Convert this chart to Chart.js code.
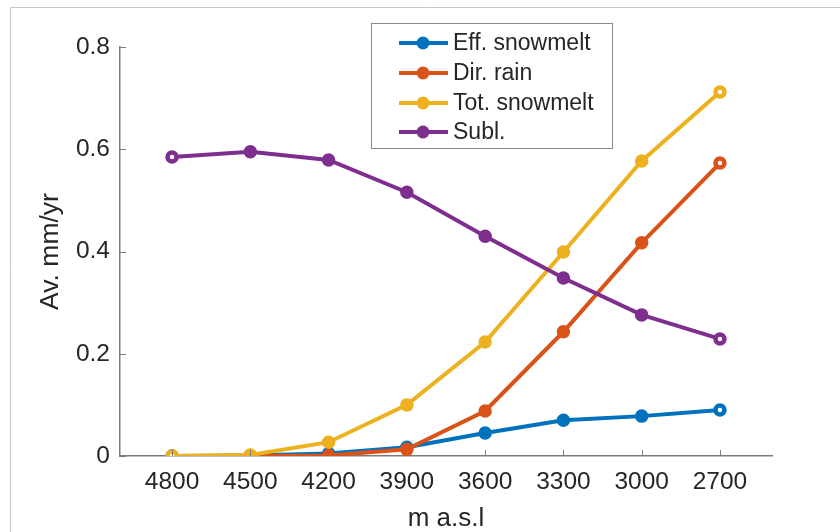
<!DOCTYPE html>
<html>
<head>
<meta charset="utf-8">
<script src="https://cdn.jsdelivr.net/npm/chart.js@4"></script>
<style>
  html, body { margin: 0; padding: 0; background: #ffffff; }
  #wrap { width: 840px; height: 532px; }
</style>
</head>
<body>
<div id="wrap"><canvas id="c" width="840" height="532"></canvas></div>
<script>
// Elevation bands (m a.s.l.), from high to low
const elevations = ['4800', '4500', '4200', '3900', '3600', '3300', '3000', '2700'];

// Average water fluxes per band (mm/yr)
const effSnowmelt = [0.000, 0.001, 0.005, 0.017, 0.045, 0.070, 0.078, 0.090];
const dirRain     = [0.000, 0.000, 0.001, 0.013, 0.088, 0.243, 0.417, 0.573];
const totSnowmelt = [0.000, 0.002, 0.027, 0.100, 0.223, 0.399, 0.577, 0.712];
const subl        = [0.585, 0.595, 0.579, 0.516, 0.430, 0.348, 0.276, 0.229];

const seriesNames = ['Eff. snowmelt', 'Dir. rain', 'Tot. snowmelt', 'Subl.'];
const yTicks = [0, 0.2, 0.4, 0.6, 0.8];

const colors = ['#0072BD', '#D95319', '#EDB120', '#7E2F8E'];
const FONT = '"Liberation Sans", Arial, Helvetica, sans-serif';
const TEXT = '#262626';
const AXIS = '#7a7a7a';

const lastIdx = elevations.length - 1;
const isEnd = i => i === 0 || i === lastIdx;

function makeDataset(label, values, k) {
  const c = colors[k];
  return {
    label,
    data: values.map((v, i) => ({ x: i, y: v })),
    borderColor: c,
    backgroundColor: c,
    borderWidth: 4,
    order: 3 - k,
    // end points are drawn as thick rings, inner points as filled dots
    pointRadius: ctx => isEnd(ctx.dataIndex) ? 4.5 : 6,
    pointBorderWidth: ctx => isEnd(ctx.dataIndex) ? 4.5 : 1.5,
    pointBackgroundColor: ctx => isEnd(ctx.dataIndex) ? '#ffffff' : c,
    pointBorderColor: c,
    tension: 0
  };
}

// Outer frame lines around the figure
const framePlugin = {
  id: 'frame',
  beforeDraw(chart) {
    const ctx = chart.ctx;
    ctx.save();
    ctx.strokeStyle = '#c8c8c8';
    ctx.lineWidth = 1;
    ctx.beginPath();
    ctx.moveTo(10.5, 532);
    ctx.lineTo(10.5, 7.5);
    ctx.lineTo(840, 7.5);
    ctx.stroke();
    ctx.restore();
  }
};

// Short inward tick marks on both axes
const inwardTicks = {
  id: 'inwardTicks',
  afterDraw(chart) {
    const ctx = chart.ctx;
    const xs = chart.scales.x, ys = chart.scales.y;
    const len = 6;
    ctx.save();
    ctx.strokeStyle = AXIS;
    ctx.lineWidth = 1;
    ctx.beginPath();
    xs.ticks.forEach((t, i) => {
      const px = Math.round(xs.getPixelForTick(i)) + 0.5;
      ctx.moveTo(px, ys.bottom);
      ctx.lineTo(px, ys.bottom - len);
    });
    ys.ticks.forEach((t, i) => {
      const py = Math.round(ys.getPixelForTick(i)) + 0.5;
      ctx.moveTo(xs.left, py);
      ctx.lineTo(xs.left + len, py);
    });
    ctx.stroke();
    ctx.restore();
  }
};

// Boxed legend in the upper part of the plot
const boxLegend = {
  id: 'boxLegend',
  afterDraw(chart) {
    const ctx = chart.ctx;
    const x0 = 371.5, y0 = 23.5, w = 241, h = 125;
    ctx.save();
    ctx.fillStyle = '#ffffff';
    ctx.fillRect(x0, y0, w, h);
    ctx.strokeStyle = '#8a8a8a';
    ctx.lineWidth = 1;
    ctx.strokeRect(x0, y0, w, h);
    const rowY = [43, 73, 103, 132];
    chart.data.datasets.forEach((ds, k) => {
      const y = rowY[k];
      ctx.strokeStyle = ds.borderColor;
      ctx.lineWidth = 4;
      ctx.beginPath();
      ctx.moveTo(399, y);
      ctx.lineTo(448, y);
      ctx.stroke();
      ctx.fillStyle = ds.borderColor;
      ctx.beginPath();
      ctx.arc(423, y, 6.5, 0, Math.PI * 2);
      ctx.fill();
      ctx.fillStyle = TEXT;
      ctx.font = '23px ' + FONT;
      ctx.textAlign = 'left';
      ctx.textBaseline = 'middle';
      ctx.fillText(ds.label, 453, y + 1);
    });
    ctx.restore();
  }
};

new Chart(document.getElementById('c'), {
  type: 'line',
  data: {
    datasets: [
      makeDataset(seriesNames[0], effSnowmelt, 0),
      makeDataset(seriesNames[1], dirRain, 1),
      makeDataset(seriesNames[2], totSnowmelt, 2),
      makeDataset(seriesNames[3], subl, 3)
    ]
  },
  options: {
    responsive: false,
    animation: false,
    events: [],
    layout: { padding: { left: 0, top: 47, right: 68, bottom: 0 } },
    plugins: {
      legend: { display: false },
      tooltip: { enabled: false }
    },
    scales: {
      x: {
        type: 'linear',
        min: -0.665,
        max: lastIdx + 0.665,
        afterBuildTicks: s => { s.ticks = elevations.map((_, i) => ({ value: i })); },
        afterFit: s => { s.height = 76; },
        grid: { display: false, drawTicks: false },
        border: { display: true, color: AXIS, width: 1.5 },
        ticks: {
          autoSkip: false,
          maxRotation: 0,
          padding: 12,
          color: TEXT,
          font: { family: FONT, size: 24.5 },
          callback: v => elevations[v]
        },
        title: {
          display: true,
          text: 'm a.s.l',
          color: TEXT,
          font: { family: FONT, size: 26, lineHeight: 1.05 },
          padding: { top: 0, bottom: 0 }
        }
      },
      y: {
        min: 0,
        max: 0.8,
        afterBuildTicks: s => { s.ticks = yTicks.map(v => ({ value: v })); },
        afterFit: s => { s.width = 120; },
        grid: { display: false, drawTicks: false },
        border: { display: true, color: AXIS, width: 1.5 },
        ticks: {
          padding: 10,
          color: TEXT,
          font: { family: FONT, size: 24.5 },
          callback: v => String(v)
        },
        title: {
          display: true,
          text: 'Av. mm/yr',
          color: TEXT,
          font: { family: FONT, size: 26.5 },
          padding: { top: 35, bottom: 0 }
        }
      }
    }
  },
  plugins: [framePlugin, inwardTicks, boxLegend]
});
</script>
</body>
</html>
